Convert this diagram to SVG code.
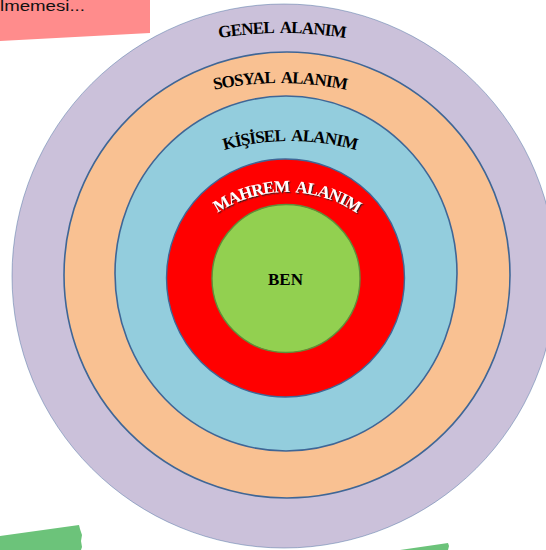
<svg xmlns="http://www.w3.org/2000/svg" width="546" height="550" viewBox="0 0 546 550">
  <style>
    .lbl { font-family: "Liberation Serif", "Times New Roman", serif; font-weight: bold; font-size: 17px; fill: #000; letter-spacing: -0.9px; }
    .ring { stroke: #3F6696; stroke-width: 1.6; }
  </style>
  <defs>
    <path id="pGenel" d="M162,51.4 A400,400 0 0 1 402,51.4"/>
    <path id="pSosyal" d="M160,106.4 A320,320 0 0 1 400,106.4"/>
    <path id="pKisisel" d="M170,172.7 A243,243 0 0 1 410,172.7"/>
    <path id="pMahrem" d="M167,279.6 A126,126 0 0 1 407,279.6"/>
    <filter id="shadow" x="-10%" y="-30%" width="130%" height="180%">
      <feDropShadow dx="1.2" dy="1.2" stdDeviation="0.6" flood-color="#222" flood-opacity="0.9"/>
    </filter>
  </defs>

  <g id="note">
    <polygon points="0,0 150,0 150,33 0,41" fill="#FF8C8C"/>
    <text x="0" y="11" font-family="Liberation Sans, Arial, sans-serif" font-size="14" fill="#111" textLength="85" lengthAdjust="spacingAndGlyphs">lmemesi...</text>
  </g>

  <g id="genel">
    <circle cx="284" cy="276" r="272" fill="#CBC1DA" stroke="#4A6FA0" stroke-width="0.8" stroke-opacity="0.6"/>
    <text class="lbl"><textPath href="#pGenel" startOffset="50%" text-anchor="middle">GENEL&#160; ALANIM</textPath></text>
  </g>

  <g id="sosyal">
    <circle class="ring" cx="287" cy="275" r="223" fill="#F9C192"/>
    <text class="lbl"><textPath href="#pSosyal" startOffset="50%" text-anchor="middle">SOSYAL&#160; ALANIM</textPath></text>
  </g>

  <g id="kisisel">
    <ellipse class="ring" cx="286" cy="273.5" rx="171" ry="177.5" fill="#93CDDD"/>
    <text class="lbl"><textPath href="#pKisisel" startOffset="50%" text-anchor="middle">KİŞİSEL&#160; ALANIM</textPath></text>
  </g>

  <g id="mahrem">
    <circle cx="285.5" cy="278" r="119" fill="#FF0000" stroke="#3F6696" stroke-width="1.4"/>
    <text class="lbl" style="fill:#fff" filter="url(#shadow)"><textPath href="#pMahrem" startOffset="50%" text-anchor="middle">MAHREM&#160; ALANIM</textPath></text>
  </g>

  <g id="ben">
    <circle cx="286" cy="278.5" r="74" fill="#92D050" stroke="#5E8F3A" stroke-width="1.4"/>
    <text class="lbl" x="285.5" y="285" text-anchor="middle" style="letter-spacing:0">BEN</text>
  </g>

  <g id="strips">
    <polygon points="0,536 79,525 80,529 82,535 81,541 82,547 81,550 0,550" fill="#6CC37A"/>
    <polygon points="400,550 448,543 449,546 448,550" fill="#6CC37A"/>
  </g>

  <g id="connectors"></g>
</svg>
